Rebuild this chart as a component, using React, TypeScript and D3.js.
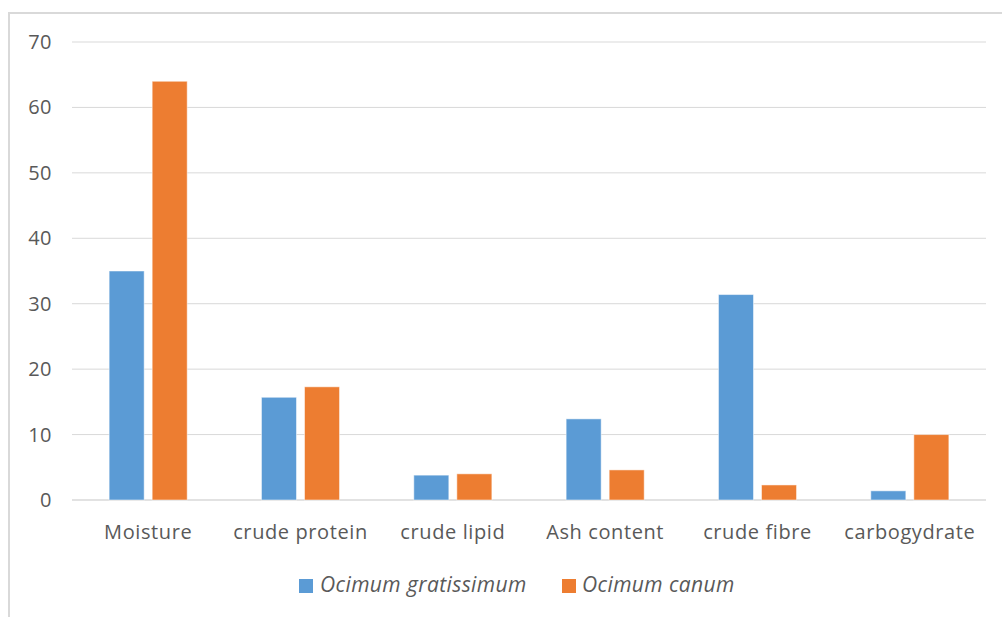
import * as d3 from "d3";
import React from "react";

const categories = [
  "Moisture",
  "crude protein",
  "crude lipid",
  "Ash content",
  "crude fibre",
  "carbogydrate",
];
const seriesNames = ["Ocimum gratissimum", "Ocimum canum"];
const gratissimum = [35, 15.7, 3.8, 12.4, 31.4, 1.4];
const canum = [64, 17.3, 4.0, 4.6, 2.3, 10.0];
const yTicks = [0, 10, 20, 30, 40, 50, 60, 70];

const colors = ["#5b9bd5", "#ed7d31"];

export default function App() {
  const width = 1002;
  const height = 617;
  const margin = { top: 42, right: 16, bottom: 117, left: 72 };
  const font = "'Open Sans', 'Noto Sans', sans-serif";

  const x = d3
    .scaleBand()
    .domain(categories)
    .range([margin.left, width - margin.right])
    .paddingInner(0)
    .paddingOuter(0);

  const xInner = d3
    .scaleBand()
    .domain(seriesNames)
    .range([0, x.bandwidth()])
    .paddingInner(0.186)
    .paddingOuter(0.863);

  const y = d3
    .scaleLinear()
    .domain([0, 70])
    .range([height - margin.bottom, margin.top]);

  const values = [gratissimum, canum];

  return (
    <svg
      width={width}
      height={height}
      style={{ position: "absolute", left: 0, top: 0, background: "#fff" }}
    >
      {/* chart frame, cut off at right and bottom like the source image */}
      <rect
        x={9}
        y={13}
        width={1200}
        height={800}
        fill="#fff"
        stroke="#d9d9d9"
        strokeWidth={2}
      />

      {/* gridlines + y labels */}
      {yTicks.map((t) => (
        <g key={t}>
          <line
            x1={margin.left}
            x2={width - margin.right}
            y1={y(t)}
            y2={y(t)}
            stroke="#d9d9d9"
            strokeWidth={t === 0 ? 1.5 : 1}
          />
          <text
            x={52}
            y={y(t)}
            dy="0.35em"
            textAnchor="end"
            fontFamily={font}
            fontSize={20}
            letterSpacing={0.5}
            fill="#595959"
          >
            {t}
          </text>
        </g>
      ))}

      {/* bars */}
      {categories.map((c, i) => (
        <g key={c} transform={`translate(${x(c)},0)`}>
          {seriesNames.map((s, j) => (
            <rect
              key={s}
              x={xInner(s)}
              y={y(values[j][i])}
              width={xInner.bandwidth()}
              height={y(0) - y(values[j][i])}
              fill={colors[j]}
              stroke="#fff"
              strokeOpacity={0.5}
              strokeWidth={1}
            />
          ))}
          <text
            x={x.bandwidth() / 2}
            y={539}
            textAnchor="middle"
            fontFamily={font}
            fontSize={20}
            letterSpacing={0.6}
            fill="#595959"
          >
            {c}
          </text>
        </g>
      ))}

      {/* legend */}
      <g
        fontFamily={font}
        fontSize={21}
        letterSpacing={0.4}
        fill="#595959"
        fontStyle="italic"
      >
        <rect x={299} y={579} width={14} height={14} fill={colors[0]} />
        <text x={320} y={592}>
          {seriesNames[0]}
        </text>
        <rect x={562} y={579} width={14} height={14} fill={colors[1]} />
        <text x={582} y={592}>
          {seriesNames[1]}
        </text>
      </g>
    </svg>
  );
}
